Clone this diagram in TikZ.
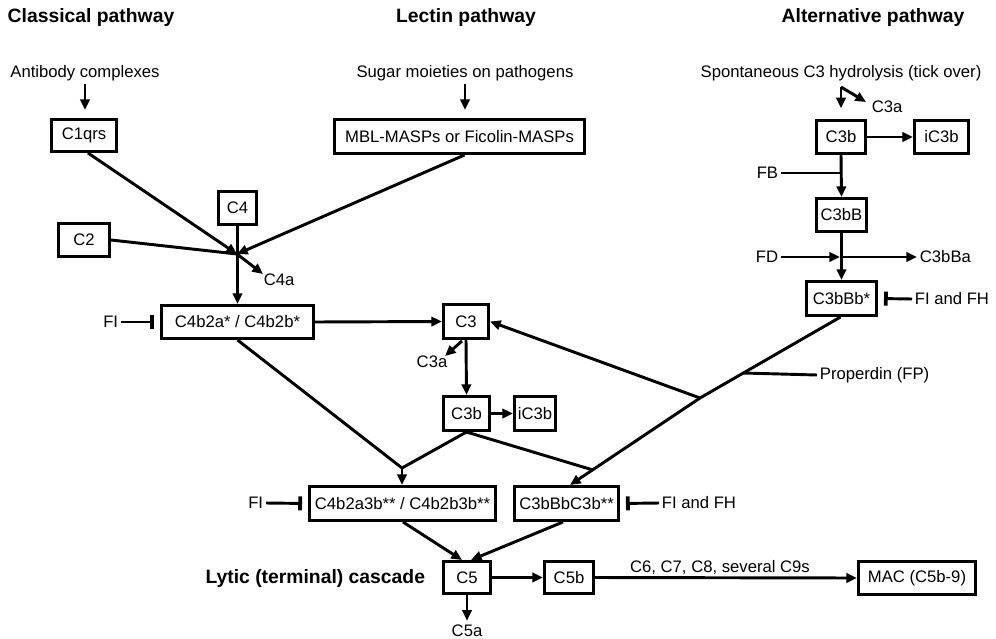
\documentclass[tikz,border=0pt]{standalone}
\usepackage{fontspec}
\setmainfont{Liberation Sans}
\usetikzlibrary{arrows.meta,calc}
\begin{document}
\begin{tikzpicture}[x=0.75pt,y=-0.75pt,
  every node/.style={font=\fontsize{12.5}{15}\selectfont, inner sep=2pt},
  title/.style={font=\fontsize{14.5}{17}\selectfont\bfseries},
  box/.style={draw, line width=2.5pt, inner sep=0pt},
  sz/.style 2 args={minimum width=#1*0.75pt-2.5pt, minimum height=#2*0.75pt-2.5pt},
  ln/.style={line width=2.2pt},
  arr/.style={line width=2.2pt, -{Triangle[length=8pt,width=7pt]}},
  inh/.style={line width=2.2pt, -{Bar[width=10.5pt,line width=2.8pt]}, shorten >=4.5pt}]
\useasboundingbox (0,0) rectangle (996,639);

% titles
\node[title] (tcl) at (91,18) {Classical pathway};
\node[title] (tle) at (466,18) {Lectin pathway};
\node[title] (tal) at (873,18) {Alternative pathway};

% inputs
\node (ab) at (85,73) {Antibody complexes};
\node (sug) at (465,73) {Sugar moieties on pathogens};
\node (spo) at (841,73) {Spontaneous C3 hydrolysis (tick over)};

% boxes
\node[box,sz={68}{35}] (c1qrs) at (84,135.5) {C1qrs};
\node[box,sz={253}{37}] (mbl) at (459.5,136.5) {MBL-MASPs or Ficolin-MASPs};
\node[box,sz={41}{36}] (c4) at (237.5,208) {C4};
\node[box,sz={54}{36}] (c2) at (84,240) {C2};
\node[box,sz={155}{36}] (c4b2a) at (237.5,322) {C4b2a* / C4b2b*};
\node[box,sz={48}{37}] (c3) at (466,321.5) {C3};
\node[box,sz={49}{37}] (c3b) at (466.5,413.5) {C3b};
\node[box,sz={44}{37}] (ic3b) at (535,413.5) {iC3b};
\node[box,sz={189}{37}] (c4b2a3b) at (402.5,503.5) {C4b2a3b** / C4b2b3b**};
\node[box,sz={107}{37}] (c3bbbc3b) at (566.5,503.5) {C3bBbC3b**};
\node[box,sz={50}{35}] (c5) at (467,577.5) {C5};
\node[box,sz={52}{35}] (c5b) at (569,577.5) {C5b};
\node[box,sz={120}{36}] (mac) at (917,578) {MAC (C5b-9)};
\node[box,sz={52}{36}] (ac3b) at (841,137) {C3b};
\node[box,sz={57}{36}] (aic3b) at (941.5,137) {iC3b};
\node[box,sz={53}{36}] (c3bB) at (841.5,215) {C3bB};
\node[box,sz={73}{37}] (c3bBb) at (841.5,298.5) {C3bBb*};

% labels
\node[anchor=west] (c4a) at (261,280) {C4a};
\node[anchor=east] (fi1) at (121,322) {FI};
\node (c3a) at (432,362) {C3a};
\node[anchor=east] (fi2) at (266,503) {FI};
\node[anchor=west] (fifh2) at (659,503) {FI and FH};
\node[title,anchor=east] (lyt) at (428,578) {Lytic (terminal) cascade};
\node (c5a) at (467,631) {C5a};
\node[anchor=west] (ac3a) at (869,107) {C3a};
\node[anchor=east] (fb) at (781,173) {FB};
\node[anchor=east] (fd) at (781,257) {FD};
\node[anchor=west] (c3bba) at (917,257) {C3bBa};
\node[anchor=west] (fifh1) at (912,299) {FI and FH};
\node[anchor=west] (prop) at (817,375) {Properdin (FP)};

% coordinates
\coordinate (J) at (237,254);
\coordinate (C4aT) at (263,274);
\coordinate (C3aS) at (462,341);
\coordinate (C3aT) at (445,356);
\coordinate (M1) at (402,468);
\coordinate (V) at (700,398);
\coordinate (M2) at (593,470);
\coordinate (P) at (743,373);
\coordinate (K) at (841,87);
\coordinate (KA) at (866,102);
\coordinate (FDx) at (841,257);
\coordinate (FBx) at (841,173);

% classical / lectin
\draw[arr,shorten >=6pt] (ab.south) -- (ab.south |- c1qrs.north);
\draw[arr,shorten >=6pt] (sug.south) -- (sug.south |- mbl.north);
\draw[arr] ($(c1qrs.south)+(4,0)$) -- (J);
\draw[arr] ($(mbl.south)+(5,0)$) -- (J);
\draw[ln] (c2.east) -- (J);
\draw[arr] (c4.south) -- (c4b2a.north);
\draw[arr] (J) -- (C4aT);
\draw[inh] (fi1.east) -- (c4b2a.west);
\draw[arr] (c4b2a.east) -- (c3.west);
\draw[arr] (C3aS) -- (C3aT);
\draw[arr] (c3.south) -- (c3b.north);
\draw[arr] (c3b.east) -- (ic3b.west);
\draw[ln] (c4b2a.south) -- (M1);
\draw[ln] (c3b.south) -- (M1);
\draw[arr] (M1) -- (M1 |- c4b2a3b.north);
\draw[arr] ($(c3bBb.south)+(-1,0)$) -- (V) -- ($(c3bbbc3b.north)+(3.5,0)$);
\draw[arr] (V) -- (c3.east);
\draw[ln] (c3b.south) -- (M2);
\draw[ln] (P) -- (prop.west);
\draw[inh] (fi2.east) -- (c4b2a3b.west);
\draw[inh] (fifh2.west) -- (c3bbbc3b.east);

% terminal
\draw[arr] ($(c4b2a3b.south)+(0.5,0)$) -- ($(c5.north)+(-5,0)$);
\draw[arr] ($(c3bbbc3b.south)+(-3.5,0)$) -- ($(c5.north)+(4,0)$);
\draw[arr] (c5.east) -- (c5b.west);
\draw[arr,shorten >=1pt] (c5.south) -- (c5a.north);
\draw[arr] (c5b.east) -- node[above=-1pt, pos=0.477] (c6lab) {C6, C7, C8, several C9s} (mac.west);

% alternative
\draw[arr,shorten >=8pt] (K) -- (K |- ac3b.north);
\draw[arr] (K) -- (KA);
\draw[arr] (ac3b.east) -- (aic3b.west);
\draw[ln] (fb.east) -- (FBx);
\draw[arr] (ac3b.south) -- (c3bB.north);
\draw[arr] (fd.east) -- ($(FDx)+(-1,0)$);
\draw[arr] (FDx) -- (c3bba.west);
\draw[arr] (c3bB.south) -- (c3bBb.north);
\draw[inh] (fifh1.west) -- (c3bBb.east);
\end{tikzpicture}
\end{document}
